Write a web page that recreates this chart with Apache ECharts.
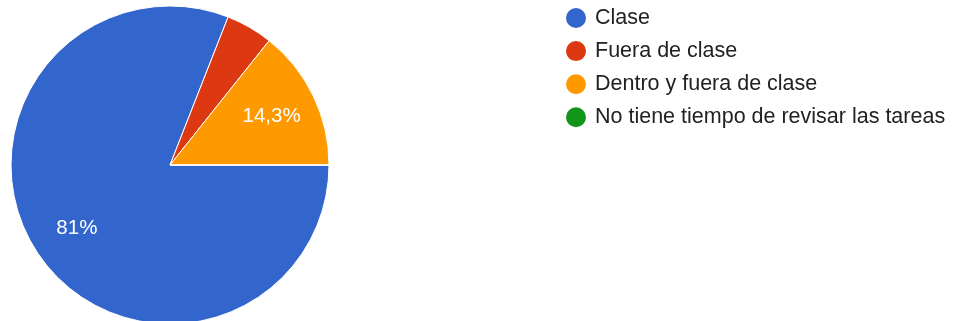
<!DOCTYPE html>
<html><head><meta charset="utf-8">
<script src="https://cdn.jsdelivr.net/npm/echarts@6/dist/echarts.min.js"></script>
<style>html,body{margin:0;padding:0;background:#fff}#c{width:958px;height:321px}</style>
</head><body><div id="c"></div>
<script>
const categories = ['Clase', 'Fuera de clase', 'Dentro y fuera de clase', 'No tiene tiempo de revisar las tareas'];
const values = [17, 1, 3, 0];
const colors = ['#3366cc', '#dc3912', '#ff9900', '#109618'];

const total = values.reduce((a, b) => a + b, 0);
const data = categories.map((n, i) => ({ name: n, value: values[i] }));
const fmt = p => {
  const pct = p.value / total * 100;
  if (pct < 5) return '';
  return (Math.round(pct * 10) / 10).toString().replace('.', ',') + '%';
};
const R = 159;
const FONT = 'Liberation Sans, Arial, sans-serif';
const chart = echarts.init(document.getElementById('c'));
chart.setOption({
  animation: false,
  color: colors,
  textStyle: { fontFamily: FONT },
  legend: {
    orient: 'vertical', left: 564, top: 6, padding: 0,
    icon: 'circle', itemWidth: 22, itemHeight: 22, itemGap: 9.1,
    textStyle: { fontSize: 21.5, color: '#222', padding: [0, 0, 0, 3], fontFamily: FONT },
    data: categories
  },
  series: [
    {
      type: 'pie', center: [170, 165], radius: [0, R], startAngle: 0, clockwise: true,
      stillShowZeroSum: false,
      itemStyle: { borderColor: '#fff', borderWidth: 1 },
      label: { show: false }, labelLine: { show: false },
      emphasis: { disabled: true },
      data: data
    },
    {
      type: 'pie', center: [170, 165], radius: [R * 0.38, R], startAngle: 0, clockwise: true,
      silent: true, legendHoverLink: false,
      itemStyle: { color: 'transparent', borderWidth: 0 },
      label: { show: true, position: 'inside', formatter: fmt, color: '#fff', fontSize: 20.5, fontFamily: FONT },
      labelLine: { show: false },
      emphasis: { disabled: true },
      data: data.map(d => ({ name: d.name, value: d.value, itemStyle: { color: 'transparent' } }))
    }
  ]
});
</script></body></html>
